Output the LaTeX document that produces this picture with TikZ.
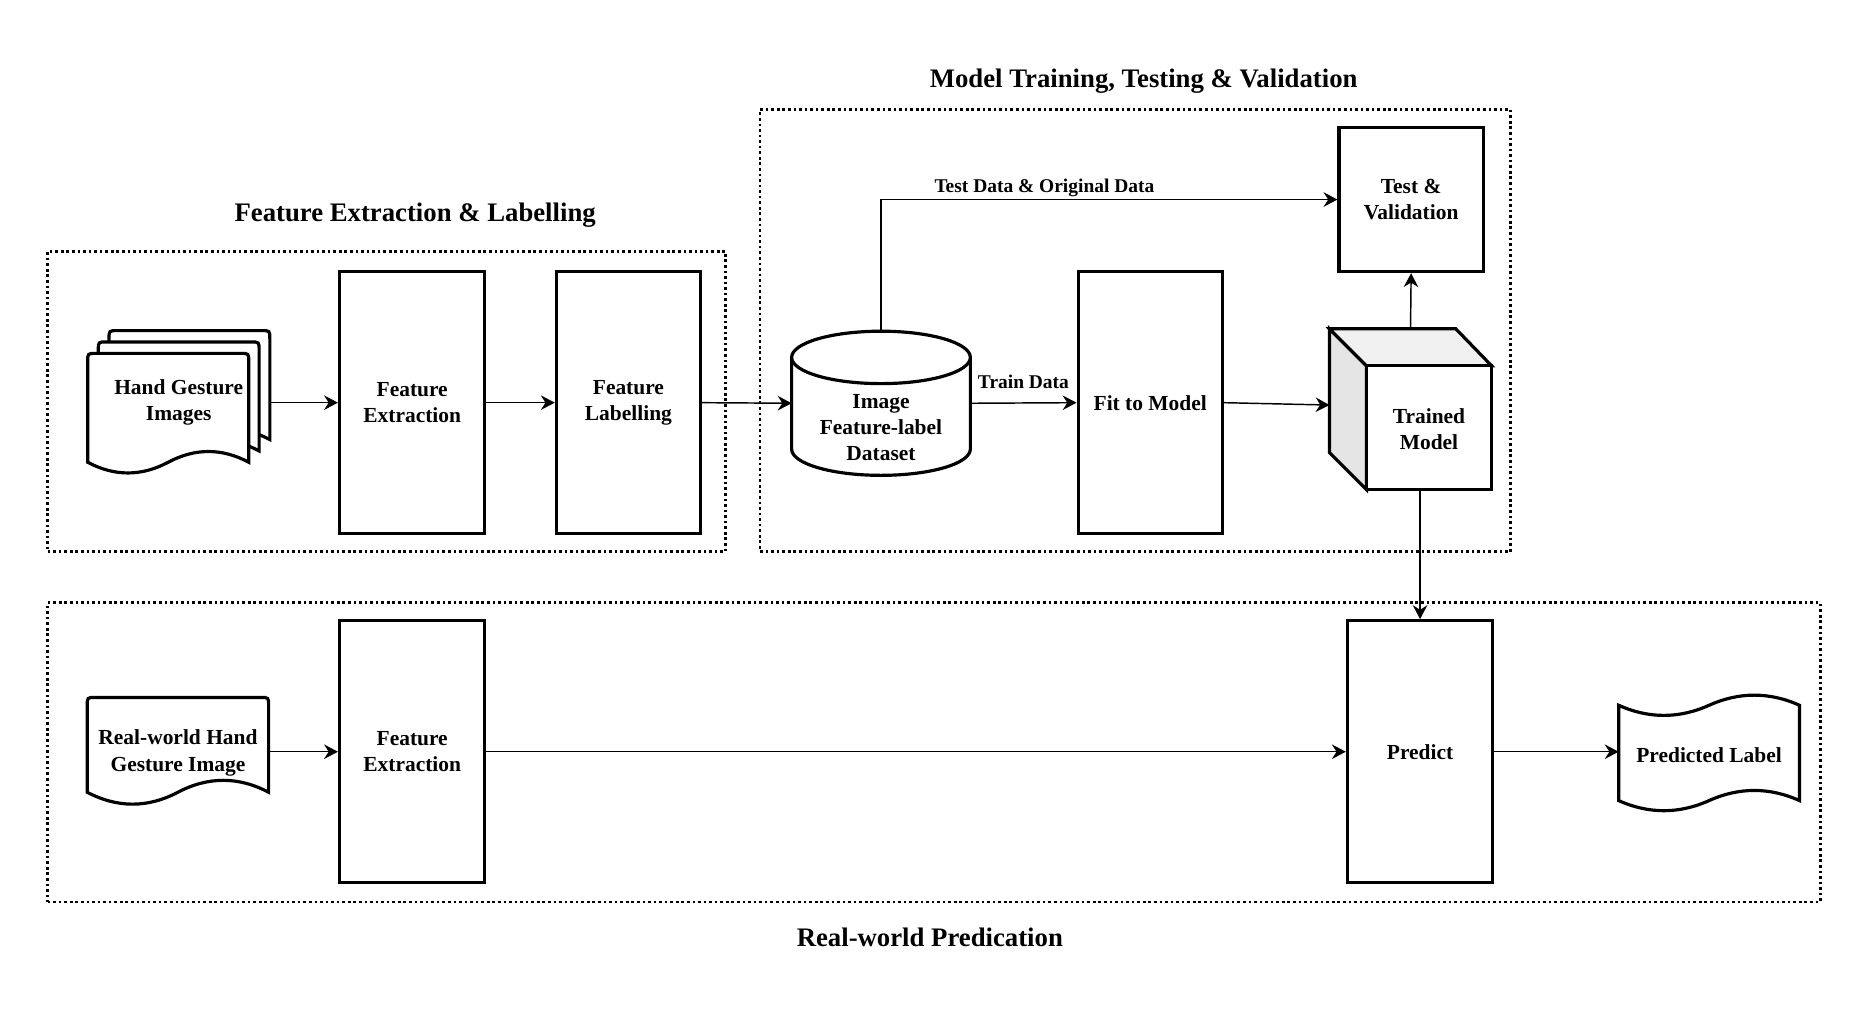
\documentclass[tikz,border=0pt]{standalone}
\usepackage{fontspec}
\setmainfont{Liberation Serif}
\usetikzlibrary{arrows.meta,calc}
\newcommand\myBody{\bfseries\fontsize{16.2pt}{19.8pt}\selectfont}
\newcommand\myTitle{\bfseries\fontsize{20.2pt}{24pt}\selectfont}
\newcommand\myLabel{\bfseries\fontsize{14.7pt}{17pt}\selectfont}
\def\U{0.9pt}
\newcommand\docshape[5]{%
 \pgfmathsetmacro\dw{#2-#1}%
 \pgfmathsetmacro\dk{4*#5/3}%
 \filldraw[shp] (#1,#4) -- (#1,#3+7) .. controls (#1,#3) .. (#1+7,#3) -- (#2-7,#3) .. controls (#2,#3) .. (#2,#3+7) -- (#2,#4)
  .. controls (#2-\dw/6,#4-\dk) and (#1+2*\dw/3,#4-\dk) .. (#1+\dw/2,#4)
  .. controls (#1+\dw/3,#4+\dk) and (#1+\dw/6,#4+\dk) .. (#1,#4) -- cycle;}
\newcommand\tapeshape[5]{%
 \pgfmathsetmacro\dw{#2-#1}%
 \pgfmathsetmacro\dk{4*#5/3}%
 \filldraw[shp] (#1,#3) .. controls (#1+\dw/6,#3+\dk) and (#1+\dw/3,#3+\dk) .. (#1+\dw/2,#3)
  .. controls (#1+2*\dw/3,#3-\dk) and (#2-\dw/6,#3-\dk) .. (#2,#3) -- (#2,#4)
  .. controls (#2-\dw/6,#4-\dk) and (#1+2*\dw/3,#4-\dk) .. (#1+\dw/2,#4)
  .. controls (#1+\dw/3,#4+\dk) and (#1+\dw/6,#4+\dk) .. (#1,#4) -- cycle;}
\tikzset{
 grp/.style={draw, line width=2pt, dash pattern=on 2pt off 2.2pt, inner sep=0pt},
 blk/.style={draw, line width=2.4pt, fill=white, align=center, font=\myBody, inner sep=0pt},
 ghost/.style={inner sep=0pt, outer sep=0pt},
 txt/.style={align=center, font=\myBody, inner sep=0pt},
 shp/.style={draw, line width=2.4pt, fill=white, line join=miter},
 arr/.style={line width=1.1pt, -{Stealth[length=10.5pt, width=11pt, inset=3.5pt]}},
 lbl/.style={font=\myLabel, inner sep=0pt},
 ttl/.style={font=\myTitle, inner sep=0pt, anchor=base},
}
\begin{document}
\begin{tikzpicture}[x=0.9pt,y=-0.9pt]
\useasboundingbox[fill=white] (0,0) rectangle (1568,849.5);
% group frames
\node[grp, minimum width=569*\U, minimum height=252*\U] (g1) at (324.5,337) {};
\node[grp, minimum width=630*\U, minimum height=371*\U] (g2) at (953,277.5) {};
\node[grp, minimum width=1488*\U, minimum height=251*\U] (g3) at (784,631.5) {};
% titles
\node[ttl] (t1) at (960,73.3) {Model Training, Testing \& Validation};
\node[ttl] (t2) at (348.5,186.3) {Feature Extraction \& Labelling};
\node[ttl] (t3) at (780.5,794.3) {Real-world Predication};
% boxes
\node[blk, minimum width=122*\U, minimum height=220*\U] (fe) at (346,338) {Feature\\Extraction};
\node[blk, minimum width=121*\U, minimum height=220*\U] (fl) at (527.5,338) {Feature\\Labelling};
\node[blk, minimum width=121*\U, minimum height=220*\U] (fit) at (965.5,338) {Fit to Model};
\node[blk, minimum width=121*\U, minimum height=121*\U] (tv) at (1184.5,167.5) {Test \&\\Validation};
\node[blk, minimum width=122*\U, minimum height=220*\U] (fe2) at (346,631) {Feature\\Extraction};
\node[blk, minimum width=122*\U, minimum height=220*\U] (predict) at (1192,631) {Predict};
% multi document
\node[ghost, minimum width=153*\U, minimum height=119*\U] (hg) at (150,337) {};
\docshape{91.5}{226.5}{277.5}{369}{9}
\docshape{82.5}{217.5}{287}{378.5}{9}
\docshape{73.6}{208.8}{296.6}{388}{9}
\node[txt] (hgtext) at (150,338) {Hand Gesture\\Images};
% real-world document
\node[ghost, minimum width=152.3*\U, minimum height=90*\U] (rw) at (149.4,630) {};
\docshape{73.2}{225.5}{585.4}{665}{10}
\node[txt] (rwtext) at (149.4,632) {Real-world Hand\\Gesture Image};
% predicted label tape
\node[ghost, minimum width=151.8*\U, minimum height=80*\U] (pl) at (1434.6,631) {};
\tapeshape{1358.7}{1510.5}{592}{672}{8.5}
\node[txt] (pltext) at (1434.6,634) {Predicted Label};
% cylinder
\node[ghost, minimum width=150*\U, minimum height=121*\U] (db) at (739.5,338.5) {};
\filldraw[shp] (664.5,300) -- (664.5,377) arc[start angle=180, end angle=0, x radius=75, y radius=22] -- (814.5,300);
\filldraw[shp] (739.5,300) ellipse[x radius=75, y radius=22];
\node[txt] (dbtext) at (739.5,359) {Image\\Feature-label\\Dataset};
% cube
\node[ghost, minimum width=136*\U, minimum height=135*\U] (cube) at (1184,343.5) {};
\filldraw[shp, fill=gray!20] (1116,276) -- (1147,307) -- (1147,411) -- (1116,380) -- cycle;
\filldraw[shp, fill=gray!12] (1116,276) -- (1222,276) -- (1252,307) -- (1147,307) -- cycle;
\filldraw[shp] (1147,307) rectangle (1252,411);
\node[txt] (cubetext) at (1199.5,360) {Trained\\Model};
\coordinate (cubein) at (1116,340);
% connectors
\draw[arr] (hg.east |- fe.west) -- (fe.west);
\draw[arr] (fe.east) -- (fl.west);
\draw[arr] (fl.east) -- (db.west);
\draw[arr] (db.east) -- node[lbl, anchor=base, yshift=11.2pt] {Train Data} (fit.west);
\draw[arr] (fit.east) -- (cubein);
\draw[arr] (cube.north) -- (tv.south);
\draw[arr] (db.north) |- node[lbl, pos=0.679, anchor=base, yshift=5.4pt] {Test Data \& Original Data} (tv.west);
\draw[arr] (predict.north |- cube.south) -- (predict.north);
\draw[arr] (rw.east |- fe2.west) -- (fe2.west);
\draw[arr] (fe2.east) -- (predict.west);
\draw[arr] (predict.east) -- (pl.west);
\end{tikzpicture}
\end{document}
